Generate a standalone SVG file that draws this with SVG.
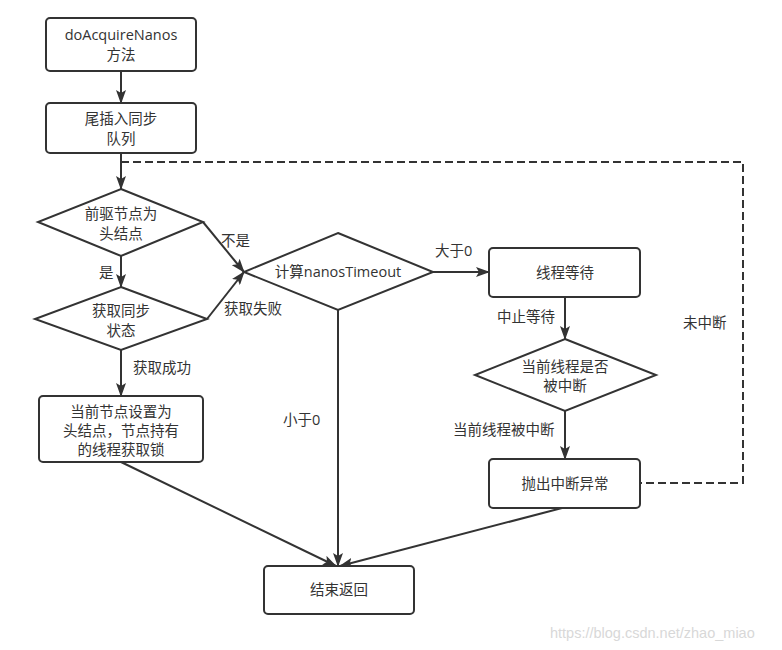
<svg xmlns="http://www.w3.org/2000/svg" width="782" height="650" viewBox="0 0 782 650">
<defs>
<marker id="ah" markerUnits="userSpaceOnUse" markerWidth="14" markerHeight="10" refX="13" refY="5" orient="auto">
<path d="M0,0 L14,5 L0,10 L3,5 z" fill="#333"/>
</marker>
<style>
.n rect,.n polygon{fill:#fff;stroke:#333;stroke-width:2}
text{font-family:"Open Sans","Noto Sans CJK SC",sans-serif;font-size:14.5px;fill:#333}
.t{text-anchor:middle}
.c line,.c polyline{stroke:#333;stroke-width:2;fill:none}
.a{marker-end:url(#ah)}
.d{stroke-dasharray:8 4}
.wm{font-family:"Liberation Sans",Arial,sans-serif;font-size:14.5px;fill:#d8d8d8}
</style>
</defs>
<rect width="782" height="650" fill="#fff"/>
<g class="c" id="connectors">
<line class="a" x1="121" y1="71" x2="121" y2="103"/>
<line class="a" x1="121" y1="153" x2="121" y2="189"/>
<polyline class="d" points="121,162 743,162 743,483 640,483"/>
<line class="a" x1="121" y1="256" x2="121" y2="287"/>
<line class="a" x1="121" y1="350" x2="121" y2="396"/>
<line class="a" x1="203" y1="222" x2="244" y2="272"/>
<line class="a" x1="207" y1="319" x2="244" y2="272"/>
<line class="a" x1="433" y1="272" x2="489" y2="272"/>
<line class="a" x1="565" y1="297" x2="565" y2="339"/>
<line class="a" x1="565" y1="411" x2="565" y2="459"/>
<line class="a" x1="338" y1="310" x2="338" y2="566"/>
<line class="a" x1="121" y1="462" x2="336" y2="566"/>
<line class="a" x1="562" y1="508" x2="340" y2="566"/>
<text x="99" y="278">是</text>
<text x="133" y="373">获取成功</text>
<text x="221" y="246">不是</text>
<text x="224" y="314">获取失败</text>
<text x="435" y="256">大于0</text>
<text x="497" y="322">中止等待</text>
<text x="453" y="435">当前线程被中断</text>
<text x="283" y="425">小于0</text>
<text x="683" y="328">未中断</text>
</g>
<g class="n" id="start">
<rect x="46" y="18" width="150" height="53" rx="4"/>
<text class="t" x="121" y="40">doAcquireNanos</text>
<text class="t" x="121" y="60">方法</text>
</g>
<g class="n" id="enqueue">
<rect x="46" y="103" width="150" height="50" rx="4"/>
<text class="t" x="121" y="124">尾插入同步</text>
<text class="t" x="121" y="144">队列</text>
</g>
<g class="n" id="isHead">
<polygon points="121,189 203,222 121,256 38,222"/>
<text class="t" x="121" y="219">前驱节点为</text>
<text class="t" x="121" y="239">头结点</text>
</g>
<g class="n" id="tryAcquire">
<polygon points="121,287 207,319 121,350 35,319"/>
<text class="t" x="121" y="316">获取同步</text>
<text class="t" x="121" y="336">状态</text>
</g>
<g class="n" id="setHead">
<rect x="39" y="396" width="164" height="66" rx="4"/>
<text class="t" x="121" y="417">当前节点设置为</text>
<text class="t" x="121" y="436">头结点，节点持有</text>
<text class="t" x="121" y="455">的线程获取锁</text>
</g>
<g class="n" id="calc">
<polygon points="338,233 433,272 338,310 244,272"/>
<text class="t" x="338" y="277">计算nanosTimeout</text>
</g>
<g class="n" id="wait">
<rect x="489" y="248" width="151" height="49" rx="4"/>
<text class="t" x="565" y="278">线程等待</text>
</g>
<g class="n" id="interrupted">
<polygon points="565,339 656,375 565,411 475,375"/>
<text class="t" x="565" y="372">当前线程是否</text>
<text class="t" x="565" y="391">被中断</text>
</g>
<g class="n" id="throw">
<rect x="489" y="459" width="151" height="49" rx="4"/>
<text class="t" x="565" y="489">抛出中断异常</text>
</g>
<g class="n" id="end">
<rect x="264" y="566" width="150" height="48" rx="4"/>
<text class="t" x="339" y="595">结束返回</text>
</g>
<text class="wm" x="550" y="638">https://blog.csdn.net/zhao_miao</text>
</svg>
